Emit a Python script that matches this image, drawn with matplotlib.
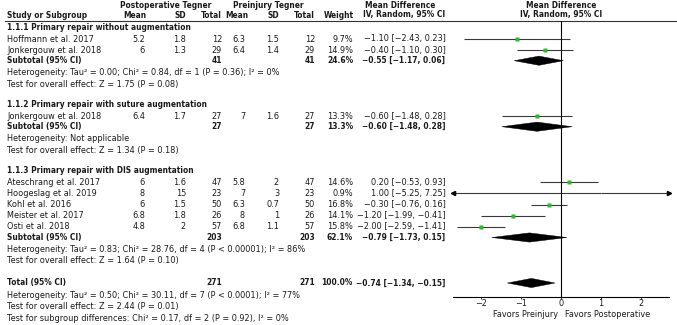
import numpy as np
import matplotlib.pyplot as plt
from matplotlib.patches import Polygon

W, H = 677, 325
FS = 5.9
FS_HEAD = 5.45
TXT = "#1a1a1a"
GREEN = "#2eb82e"

# per-study data
studies = ["Hoffmann et al. 2017", "Jonkergouw et al. 2018", "Jonkergouw et al. 2018",
           "Ateschrang et al. 2017", "Hoogeslag et al. 2019", "Kohl et al. 2016",
           "Meister et al. 2017", "Osti et al. 2018"]
study_group = [0, 0, 1, 2, 2, 2, 2, 2]
post_mean = [5.2, 6, 6.4, 6, 8, 6, 6.8, 4.8]
post_sd = [1.8, 1.3, 1.7, 1.6, 15, 1.5, 1.8, 2]
post_n = [12, 29, 27, 47, 23, 50, 26, 57]
pre_mean = [6.3, 6.4, 7, 5.8, 7, 6.3, 8, 6.8]
pre_sd = [1.5, 1.4, 1.6, 2, 3, 0.7, 1, 1.1]
pre_n = [12, 29, 27, 47, 23, 50, 26, 57]
weights = [9.7, 14.9, 13.3, 14.6, 0.9, 16.8, 14.1, 15.8]
md = [-1.10, -0.40, -0.60, 0.20, 1.00, -0.30, -1.20, -2.00]
ci_lo = [-2.43, -1.10, -1.48, -0.53, -5.25, -0.76, -1.99, -2.59]
ci_hi = [0.23, 0.30, 0.28, 0.93, 7.25, 0.16, -0.41, -1.41]

# subgroups
group_titles = ["1.1.1 Primary repair without augmentation",
                "1.1.2 Primary repair with suture augmentation",
                "1.1.3 Primary repair with DIS augmentation"]
sub_n_post = [41, 27, 203]
sub_n_pre = [41, 27, 203]
sub_weight = [24.6, 13.3, 62.1]
sub_md = [-0.55, -0.60, -0.79]
sub_lo = [-1.17, -1.48, -1.73]
sub_hi = [0.06, 0.28, 0.15]
sub_het = ["Heterogeneity: Tau\u00b2 = 0.00; Chi\u00b2 = 0.84, df = 1 (P = 0.36); I\u00b2 = 0%",
           "Heterogeneity: Not applicable",
           "Heterogeneity: Tau\u00b2 = 0.83; Chi\u00b2 = 28.76, df = 4 (P < 0.00001); I\u00b2 = 86%"]
sub_test = ["Test for overall effect: Z = 1.75 (P = 0.08)",
            "Test for overall effect: Z = 1.34 (P = 0.18)",
            "Test for overall effect: Z = 1.64 (P = 0.10)"]

# overall
total_n_post = 271
total_n_pre = 271
total_weight = 100.0
total_md = -0.74
total_lo = -1.34
total_hi = -0.15
total_notes = ["Heterogeneity: Tau\u00b2 = 0.50; Chi\u00b2 = 30.11, df = 7 (P < 0.0001); I\u00b2 = 77%",
               "Test for overall effect: Z = 2.44 (P = 0.01)",
               "Test for subgroup differences: Chi\u00b2 = 0.17, df = 2 (P = 0.92), I\u00b2 = 0%"]

xticks = [-2, -1, 0, 1, 2]
xlim = (-2.7, 2.7)

# column positions (pixels)
X_NAME = 7
X_PM, X_PSD, X_PN = 145, 186, 222
X_QM, X_QSD, X_QN = 245, 279, 315
X_W, X_MD = 353, 445.5
X0, X1, Y0, Y1 = 453, 669, 20.5, 297


def fmt_md(m, lo, hi):
    return f"{m:.2f} [{lo:.2f}, {hi:.2f}]".replace("-", "\u2212")


fig = plt.figure(figsize=(W / 100, H / 100), dpi=100)
bg = fig.add_axes([0, 0, 1, 1])
bg.set_xlim(0, W)
bg.set_ylim(H, 0)
bg.axis("off")

ax = fig.add_axes([X0 / W, 1 - Y1 / H, (X1 - X0) / W, (Y1 - Y0) / H])
ax.set_xlim(*xlim)
ax.set_ylim(Y1, Y0)
ax.patch.set_alpha(0)


def put(x, y, s, ha="left", bold=False, size=FS):
    bg.text(x, y, s, ha=ha, va="center", fontsize=size, color=TXT,
            fontweight="bold" if bold else "normal")


def diamond(y, m, lo, hi):
    ax.add_patch(Polygon([[lo, y], [m, y - 4.6], [hi, y], [m, y + 4.6]],
                         closed=True, fc="black", ec="black", lw=0.3))


# header
put(166, 5, "Postoperative Tegner", "center", True, FS_HEAD)
put(268.5, 5, "Preinjury Tegner", "center", True, FS_HEAD)
put(400, 5, "Mean Difference", "center", True, FS_HEAD)
put(561, 5, "Mean Difference", "center", True, FS_HEAD)
put(X_NAME, 15, "Study or Subgroup", bold=True, size=FS_HEAD)
for x, s in [(X_PM + 1, "Mean"), (X_PSD, "SD"), (X_PN, "Total"),
             (X_QM + 3, "Mean"), (X_QSD, "SD"), (X_QN, "Total"), (X_W + 1, "Weight")]:
    put(x, 15, s, "right", True, FS_HEAD)
put(404, 15, "IV, Random, 95% CI", "center", True, FS_HEAD)
put(561, 15, "IV, Random, 95% CI", "center", True, FS_HEAD)
bg.plot([5, W], [Y0, Y0], color="#333333", lw=0.8)

y = 27.5
for g, title in enumerate(group_titles):
    put(X_NAME, y, title, bold=True, size=FS_HEAD)
    y += 11.5
    for i in [k for k, sg in enumerate(study_group) if sg == g]:
        put(X_NAME, y, studies[i])
        put(X_PM, y, f"{post_mean[i]:g}", "right")
        put(X_PSD, y, f"{post_sd[i]:g}", "right")
        put(X_PN, y, f"{post_n[i]}", "right")
        put(X_QM, y, f"{pre_mean[i]:g}", "right")
        put(X_QSD, y, f"{pre_sd[i]:g}", "right")
        put(X_QN, y, f"{pre_n[i]}", "right")
        put(X_W, y, f"{weights[i]:.1f}%", "right")
        put(X_MD, y, fmt_md(md[i], ci_lo[i], ci_hi[i]), "right")
        lo = max(ci_lo[i], xlim[0])
        hi = min(ci_hi[i], xlim[1])
        ax.plot([lo, hi], [y, y], color="#3a3a3a", lw=0.8, solid_capstyle="butt")
        if ci_lo[i] < xlim[0]:
            ax.plot(lo, y, marker="<", ms=3, color="black", clip_on=False)
        if ci_hi[i] > xlim[1]:
            ax.plot(hi, y, marker=">", ms=3, color="black", clip_on=False)
        ax.plot(md[i], y, marker="s", ms=0.75 * np.sqrt(weights[i]),
                color=GREEN, mec="none")
        y += 11.2
    y -= 0.7
    put(X_NAME, y, "Subtotal (95% CI)", bold=True, size=FS_HEAD)
    put(X_PN, y, f"{sub_n_post[g]}", "right", True, FS_HEAD)
    put(X_QN, y, f"{sub_n_pre[g]}", "right", True, FS_HEAD)
    put(X_W, y, f"{sub_weight[g]:.1f}%", "right", True, FS_HEAD)
    put(X_MD, y, fmt_md(sub_md[g], sub_lo[g], sub_hi[g]), "right", True, FS_HEAD)
    diamond(y, sub_md[g], sub_lo[g], sub_hi[g])
    y += 12
    put(X_NAME, y, sub_het[g])
    y += 11.5
    put(X_NAME, y, sub_test[g])
    y += 20.5

y += 1.5
put(X_NAME, y, "Total (95% CI)", bold=True, size=FS_HEAD)
put(X_PN, y, f"{total_n_post}", "right", True, FS_HEAD)
put(X_QN, y, f"{total_n_pre}", "right", True, FS_HEAD)
put(X_W, y, f"{total_weight:.1f}%", "right", True, FS_HEAD)
put(X_MD, y, fmt_md(total_md, total_lo, total_hi), "right", True, FS_HEAD)
diamond(y, total_md, total_lo, total_hi)
y += 12.5
for note in total_notes:
    put(X_NAME, y, note)
    y += 11.3

# forest axis
ax.axvline(0, color="black", lw=0.8)
for side in ["top", "left", "right"]:
    ax.spines[side].set_visible(False)
ax.spines["bottom"].set_linewidth(0.8)
ax.set_yticks([])
ax.set_xticks(xticks)
ax.tick_params(axis="x", labelsize=FS, length=1.5, width=0.6, pad=0.3, colors=TXT)
put(558, 314.5, "Favors Preinjury", "right")
put(565, 314.5, "Favors Postoperative")

fig.savefig("out.png", dpi=100)
